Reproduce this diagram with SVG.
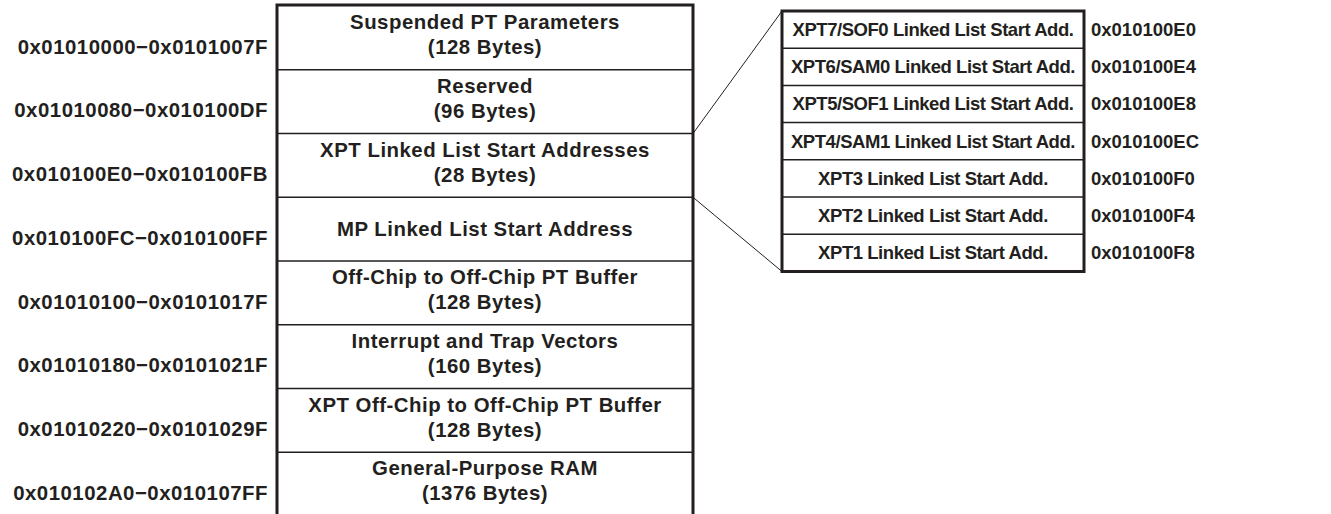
<svg xmlns="http://www.w3.org/2000/svg" width="1331" height="514" viewBox="0 0 1331 514">
<style>
text{font-family:"Liberation Sans",Arial,sans-serif;font-weight:bold;fill:#231f20}
.l{font-size:20.4px;letter-spacing:0.5px}
.r{font-size:18.5px;letter-spacing:-0.45px}
.a{font-size:18.5px}
.c{text-anchor:middle}
.e{text-anchor:end}
.outer{fill:none;stroke:#231f20;stroke-width:3}
.div{stroke:#231f20;stroke-width:1.5}
.conn{stroke:#231f20;stroke-width:1;fill:none}
</style>
<rect width="1331" height="514" fill="#fff"/>
<g id="memory-map">
<path class="outer" d="M277,520 V5 H693 V520"/>
<line class="div" x1="277" y1="69.75" x2="693" y2="69.75"/>
<line class="div" x1="277" y1="133.5" x2="693" y2="133.5"/>
<line class="div" x1="277" y1="197.25" x2="693" y2="197.25"/>
<line class="div" x1="277" y1="261" x2="693" y2="261"/>
<line class="div" x1="277" y1="324.75" x2="693" y2="324.75"/>
<line class="div" x1="277" y1="388.5" x2="693" y2="388.5"/>
<line class="div" x1="277" y1="452.25" x2="693" y2="452.25"/>
</g>
<g id="row1"><text class="c l" x="485" y="29">Suspended PT Parameters</text><text class="c l" x="485" y="54">(128 Bytes)</text><text class="e l" x="268" y="53.5">0x01010000−0x0101007F</text></g>
<g id="row2"><text class="c l" x="485" y="92.75">Reserved</text><text class="c l" x="485" y="117.75">(96 Bytes)</text><text class="e l" x="268" y="117.25">0x01010080−0x010100DF</text></g>
<g id="row3"><text class="c l" x="485" y="156.5">XPT Linked List Start Addresses</text><text class="c l" x="485" y="181.5">(28 Bytes)</text><text class="e l" x="268" y="181">0x010100E0−0x010100FB</text></g>
<g id="row4"><text class="c l" x="485" y="236">MP Linked List Start Address</text><text class="e l" x="268" y="244.75">0x010100FC−0x010100FF</text></g>
<g id="row5"><text class="c l" x="485" y="284">Off-Chip to Off-Chip PT Buffer</text><text class="c l" x="485" y="309">(128 Bytes)</text><text class="e l" x="268" y="308.5">0x01010100−0x0101017F</text></g>
<g id="row6"><text class="c l" x="485" y="347.75">Interrupt and Trap Vectors</text><text class="c l" x="485" y="372.75">(160 Bytes)</text><text class="e l" x="268" y="372.25">0x01010180−0x0101021F</text></g>
<g id="row7"><text class="c l" x="485" y="411.5">XPT Off-Chip to Off-Chip PT Buffer</text><text class="c l" x="485" y="436.5">(128 Bytes)</text><text class="e l" x="268" y="436">0x01010220−0x0101029F</text></g>
<g id="row8"><text class="c l" x="485" y="475.25">General-Purpose RAM</text><text class="c l" x="485" y="500.25">(1376 Bytes)</text><text class="e l" x="268" y="499.75">0x010102A0−0x010107FF</text></g>
<g id="xpt-table">
<rect class="outer" x="782" y="11" width="302" height="260.5"/>
<line class="div" x1="782" y1="48.2" x2="1084" y2="48.2"/>
<line class="div" x1="782" y1="85.4" x2="1084" y2="85.4"/>
<line class="div" x1="782" y1="122.6" x2="1084" y2="122.6"/>
<line class="div" x1="782" y1="159.8" x2="1084" y2="159.8"/>
<line class="div" x1="782" y1="197" x2="1084" y2="197"/>
<line class="div" x1="782" y1="234.2" x2="1084" y2="234.2"/>
</g>
<g id="xpt7"><text class="c r" x="933" y="36">XPT7/SOF0 Linked List Start Add.</text><text class="a" x="1091" y="36">0x010100E0</text></g>
<g id="xpt6"><text class="c r" x="933" y="73.2">XPT6/SAM0 Linked List Start Add.</text><text class="a" x="1091" y="73.2">0x010100E4</text></g>
<g id="xpt5"><text class="c r" x="933" y="110.4">XPT5/SOF1 Linked List Start Add.</text><text class="a" x="1091" y="110.4">0x010100E8</text></g>
<g id="xpt4"><text class="c r" x="933" y="147.6">XPT4/SAM1 Linked List Start Add.</text><text class="a" x="1091" y="147.6">0x010100EC</text></g>
<g id="xpt3"><text class="c r" x="933" y="184.8">XPT3 Linked List Start Add.</text><text class="a" x="1091" y="184.8">0x010100F0</text></g>
<g id="xpt2"><text class="c r" x="933" y="222">XPT2 Linked List Start Add.</text><text class="a" x="1091" y="222">0x010100F4</text></g>
<g id="xpt1"><text class="c r" x="933" y="259.2">XPT1 Linked List Start Add.</text><text class="a" x="1091" y="259.2">0x010100F8</text></g>
<g id="connectors">
<line class="conn" x1="693" y1="133.5" x2="782" y2="11"/>
<line class="conn" x1="693" y1="197.25" x2="782" y2="271.5"/>
</g>
</svg>
